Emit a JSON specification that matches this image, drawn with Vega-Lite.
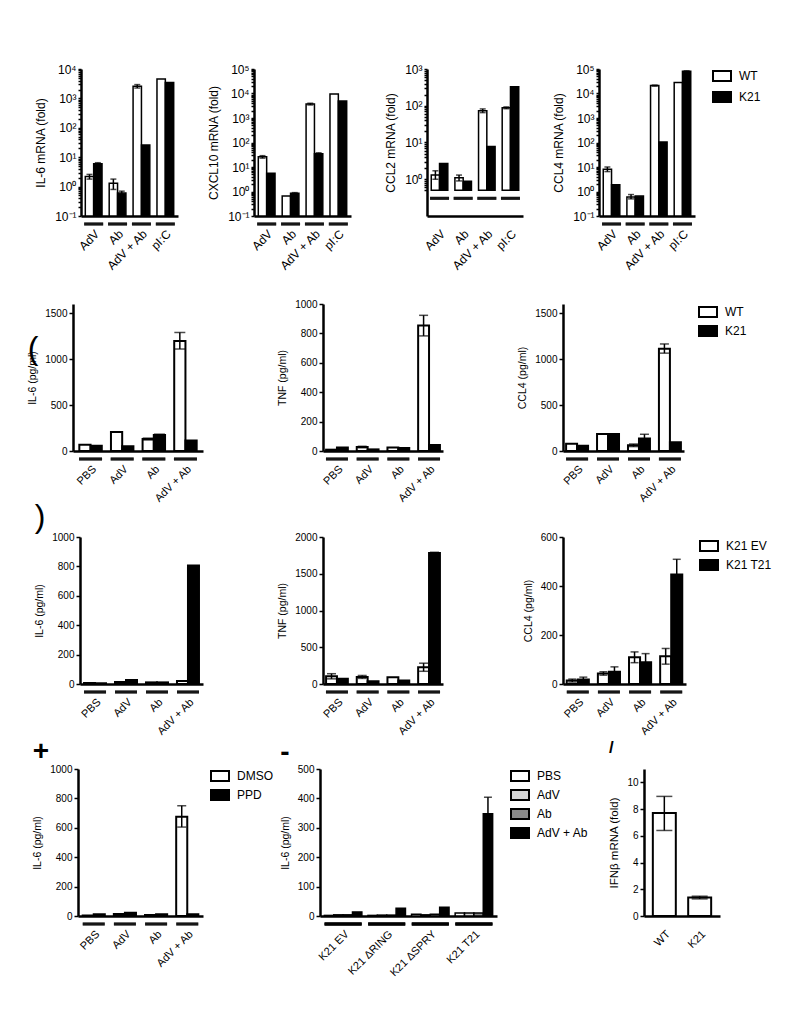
{
 "$schema": "https://vega.github.io/schema/vega-lite/v6.json",
 "padding": {"left": 20, "top": 63, "right": 5, "bottom": 5},
 "spacing": 27,
 "resolve": {"scale": {"fill": "independent", "x": "independent", "y": "independent", "xOffset": "independent"}},
 "config": {
  "font": "Liberation Sans",
  "view": {"stroke": null},
  "axis": {"domainColor": "black", "domainWidth": 2.5, "tickColor": "black", "tickWidth": 1.5, "tickSize": 4, "labelColor": "black", "titleColor": "black", "titleFontWeight": "normal", "grid": false, "labelFont": "Liberation Sans", "titleFont": "Liberation Sans"},
  "axisX": {"ticks": false, "labelAngle": -45, "labelPadding": 12, "labelFontSize": 11},
  "axisY": {"labelFontSize": 10, "titleFontSize": 10.5, "titlePadding": 7, "labelOverlap": false},
  "legend": {"labelFont": "Liberation Sans", "labelColor": "black", "labelFontSize": 12, "labelOffset": 7, "padding": 0, "rowPadding": 0, "symbolType": "M-1,-0.55H1V0.55H-1Z", "symbolSize": 324, "symbolStrokeColor": "black", "symbolStrokeWidth": 2},
  "title": {"font": "Liberation Sans", "fontSize": 32, "fontWeight": "bold", "color": "black"}
 },
 "datasets": {
  "a1": [
   {"g": "AdV", "s": "WT", "v": 2.2, "lo": 1.8, "hi": 2.6},
   {"g": "AdV", "s": "K21", "v": 6.0, "lo": 5.5, "hi": 6.5},
   {"g": "Ab", "s": "WT", "v": 1.3, "lo": 0.8, "hi": 1.8},
   {"g": "Ab", "s": "K21", "v": 0.6, "lo": 0.5, "hi": 0.7},
   {"g": "AdV + Ab", "s": "WT", "v": 2600, "lo": 2250, "hi": 2950},
   {"g": "AdV + Ab", "s": "K21", "v": 26},
   {"g": "pI:C", "s": "WT", "v": 4600},
   {"g": "pI:C", "s": "K21", "v": 3500}
  ],
  "a2": [
   {"g": "AdV", "s": "WT", "v": 26, "lo": 23, "hi": 29},
   {"g": "AdV", "s": "K21", "v": 5.5},
   {"g": "Ab", "s": "WT", "v": 0.65},
   {"g": "Ab", "s": "K21", "v": 0.85, "lo": 0.8, "hi": 0.9},
   {"g": "AdV + Ab", "s": "WT", "v": 3700, "lo": 3400, "hi": 4000},
   {"g": "AdV + Ab", "s": "K21", "v": 35, "lo": 32, "hi": 38},
   {"g": "pI:C", "s": "WT", "v": 9600},
   {"g": "pI:C", "s": "K21", "v": 5000}
  ],
  "a3": [
   {"g": "AdV", "s": "WT", "v": 1.3, "lo": 1.0, "hi": 1.7},
   {"g": "AdV", "s": "K21", "v": 2.7},
   {"g": "Ab", "s": "WT", "v": 1.1, "lo": 0.9, "hi": 1.3},
   {"g": "Ab", "s": "K21", "v": 0.88},
   {"g": "AdV + Ab", "s": "WT", "v": 73, "lo": 65, "hi": 82},
   {"g": "AdV + Ab", "s": "K21", "v": 7.8},
   {"g": "pI:C", "s": "WT", "v": 88, "lo": 83, "hi": 93},
   {"g": "pI:C", "s": "K21", "v": 330}
  ],
  "a4": [
   {"g": "AdV", "s": "WT", "v": 8, "lo": 6.5, "hi": 10},
   {"g": "AdV", "s": "K21", "v": 1.9},
   {"g": "Ab", "s": "WT", "v": 0.6, "lo": 0.5, "hi": 0.75},
   {"g": "Ab", "s": "K21", "v": 0.65},
   {"g": "AdV + Ab", "s": "WT", "v": 21000, "lo": 20000, "hi": 22000},
   {"g": "AdV + Ab", "s": "K21", "v": 105},
   {"g": "pI:C", "s": "WT", "v": 28000},
   {"g": "pI:C", "s": "K21", "v": 80000, "lo": 76000, "hi": 84000}
  ],
  "b1": [
   {"g": "PBS", "s": "WT", "v": 68}, {"g": "PBS", "s": "K21", "v": 58},
   {"g": "AdV", "s": "WT", "v": 208}, {"g": "AdV", "s": "K21", "v": 51},
   {"g": "Ab", "s": "WT", "v": 130, "lo": 120, "hi": 140}, {"g": "Ab", "s": "K21", "v": 174, "lo": 165, "hi": 183},
   {"g": "AdV + Ab", "s": "WT", "v": 1198, "lo": 1110, "hi": 1290}, {"g": "AdV + Ab", "s": "K21", "v": 113}
  ],
  "b2": [
   {"g": "PBS", "s": "WT", "v": 9}, {"g": "PBS", "s": "K21", "v": 23},
   {"g": "AdV", "s": "WT", "v": 27, "lo": 22, "hi": 32}, {"g": "AdV", "s": "K21", "v": 11},
   {"g": "Ab", "s": "WT", "v": 23}, {"g": "Ab", "s": "K21", "v": 20},
   {"g": "AdV + Ab", "s": "WT", "v": 853, "lo": 783, "hi": 923}, {"g": "AdV + Ab", "s": "K21", "v": 41}
  ],
  "b3": [
   {"g": "PBS", "s": "WT", "v": 79}, {"g": "PBS", "s": "K21", "v": 58},
   {"g": "AdV", "s": "WT", "v": 185}, {"g": "AdV", "s": "K21", "v": 185},
   {"g": "Ab", "s": "WT", "v": 62, "lo": 48, "hi": 76}, {"g": "Ab", "s": "K21", "v": 137, "lo": 92, "hi": 182},
   {"g": "AdV + Ab", "s": "WT", "v": 1113, "lo": 1065, "hi": 1165}, {"g": "AdV + Ab", "s": "K21", "v": 96}
  ],
  "c1": [
   {"g": "PBS", "s": "K21 EV", "v": 7}, {"g": "PBS", "s": "K21 T21", "v": 5},
   {"g": "AdV", "s": "K21 EV", "v": 14}, {"g": "AdV", "s": "K21 T21", "v": 27},
   {"g": "Ab", "s": "K21 EV", "v": 11}, {"g": "Ab", "s": "K21 T21", "v": 11},
   {"g": "AdV + Ab", "s": "K21 EV", "v": 20}, {"g": "AdV + Ab", "s": "K21 T21", "v": 806}
  ],
  "c2": [
   {"g": "PBS", "s": "K21 EV", "v": 105, "lo": 70, "hi": 140}, {"g": "PBS", "s": "K21 T21", "v": 73},
   {"g": "AdV", "s": "K21 EV", "v": 96, "lo": 76, "hi": 116}, {"g": "AdV", "s": "K21 T21", "v": 37},
   {"g": "Ab", "s": "K21 EV", "v": 91}, {"g": "Ab", "s": "K21 T21", "v": 46},
   {"g": "AdV + Ab", "s": "K21 EV", "v": 228, "lo": 173, "hi": 283}, {"g": "AdV + Ab", "s": "K21 T21", "v": 1781, "lo": 1770, "hi": 1792}
  ],
  "c3": [
   {"g": "PBS", "s": "K21 EV", "v": 14, "lo": 8, "hi": 20}, {"g": "PBS", "s": "K21 T21", "v": 18, "lo": 8, "hi": 28},
   {"g": "AdV", "s": "K21 EV", "v": 43, "lo": 36, "hi": 50}, {"g": "AdV", "s": "K21 T21", "v": 50, "lo": 30, "hi": 70},
   {"g": "Ab", "s": "K21 EV", "v": 109, "lo": 87, "hi": 131}, {"g": "Ab", "s": "K21 T21", "v": 89, "lo": 54, "hi": 124},
   {"g": "AdV + Ab", "s": "K21 EV", "v": 113, "lo": 81, "hi": 145}, {"g": "AdV + Ab", "s": "K21 T21", "v": 447, "lo": 385, "hi": 509}
  ],
  "d1": [
   {"g": "PBS", "s": "DMSO", "v": 4}, {"g": "PBS", "s": "PPD", "v": 12},
   {"g": "AdV", "s": "DMSO", "v": 14}, {"g": "AdV", "s": "PPD", "v": 22},
   {"g": "Ab", "s": "DMSO", "v": 7}, {"g": "Ab", "s": "PPD", "v": 12},
   {"g": "AdV + Ab", "s": "DMSO", "v": 676, "lo": 605, "hi": 750}, {"g": "AdV + Ab", "s": "PPD", "v": 12}
  ],
  "e1": [
   {"g": "K21 EV", "s": "PBS", "v": 2}, {"g": "K21 EV", "s": "AdV", "v": 4}, {"g": "K21 EV", "s": "Ab", "v": 4}, {"g": "K21 EV", "s": "AdV + Ab", "v": 14},
   {"g": "K21 ΔRING", "s": "PBS", "v": 2}, {"g": "K21 ΔRING", "s": "AdV", "v": 3}, {"g": "K21 ΔRING", "s": "Ab", "v": 3}, {"g": "K21 ΔRING", "s": "AdV + Ab", "v": 26},
   {"g": "K21 ΔSPRY", "s": "PBS", "v": 6}, {"g": "K21 ΔSPRY", "s": "AdV", "v": 4}, {"g": "K21 ΔSPRY", "s": "Ab", "v": 6}, {"g": "K21 ΔSPRY", "s": "AdV + Ab", "v": 30},
   {"g": "K21 T21", "s": "PBS", "v": 10}, {"g": "K21 T21", "s": "AdV", "v": 10}, {"g": "K21 T21", "s": "Ab", "v": 10}, {"g": "K21 T21", "s": "AdV + Ab", "v": 348, "lo": 292, "hi": 404}
  ],
  "f1": [
   {"g": "WT", "v": 7.7, "lo": 6.4, "hi": 8.95},
   {"g": "K21", "v": 1.38, "lo": 1.28, "hi": 1.48}
  ]
 },
 "vconcat": [
  {
   "hconcat": [
    {"width": 61, "height": 147, "data": {"values": []}, "mark": {"type": "point", "opacity": 0}, "encoding": {}},
    {
     "hconcat": [
      {
       "width": 97, "height": 147, "data": {"name": "a1"},
       "encoding": {"x": {"field": "g", "type": "nominal", "sort": null, "title": null, "scale": {"paddingInner": 0.3, "paddingOuter": 0.18}, "axis": {"labelFontSize": 12}}},
       "layer": [
        {"mark": {"type": "bar", "stroke": "black", "strokeWidth": 1.5},
         "encoding": {"xOffset": {"field": "s", "type": "nominal", "sort": null},
          "y": {"field": "v", "type": "quantitative", "title": "IL-6 mRNA (fold)", "scale": {"type": "log", "domain": [0.1, 10000]},
           "axis": {"values": [0.1,0.2,0.3,0.4,0.5,0.6,0.7,0.8,0.9,1,2,3,4,5,6,7,8,9,10,20,30,40,50,60,70,80,90,100,200,300,400,500,600,700,800,900,1000,2000,3000,4000,5000,6000,7000,8000,9000,10000], "tickCount": 100, "labelExpr": "abs(log(datum.value)/LN10 - round(log(datum.value)/LN10)) < 0.01 ? '10' + ['⁻¹','⁰','¹','²','³','⁴','⁵'][round(log(datum.value)/LN10)+1] : ''", "labelOverlap": false, "labelFlush": false, "labelFontSize": 12, "titleFontSize": 12, "tickSize": 3}},
          "y2": {"datum": 0.1},
          "fill": {"field": "s", "type": "nominal", "sort": null, "scale": {"domain": ["WT", "K21"], "range": ["white", "black"]}, "legend": null}}},
        {"transform": [{"filter": "isValid(datum.lo)"}], "mark": {"type": "rule", "strokeWidth": 1.5, "color": "black"},
         "encoding": {"xOffset": {"field": "s", "type": "nominal", "sort": null}, "y": {"field": "lo", "type": "quantitative", "title": "IL-6 mRNA (fold)"}, "y2": {"field": "hi"}}},
        {"transform": [{"filter": "isValid(datum.lo)"}], "mark": {"type": "tick", "thickness": 1.5, "size": 6, "color": "black"},
         "encoding": {"xOffset": {"field": "s", "type": "nominal", "sort": null}, "y": {"field": "lo", "type": "quantitative", "title": "IL-6 mRNA (fold)"}}},
        {"transform": [{"filter": "isValid(datum.lo)"}], "mark": {"type": "tick", "thickness": 1.5, "size": 6, "color": "black"},
         "encoding": {"xOffset": {"field": "s", "type": "nominal", "sort": null}, "y": {"field": "hi", "type": "quantitative", "title": "IL-6 mRNA (fold)"}}},
        {"mark": {"type": "tick", "thickness": 3, "size": 19, "yOffset": 8, "color": "black"},
         "encoding": {"y": {"datum": 0.1, "type": "quantitative"}}}
       ]
      },
      {
       "width": 97, "height": 147, "data": {"name": "a2"},
       "encoding": {"x": {"field": "g", "type": "nominal", "sort": null, "title": null, "scale": {"paddingInner": 0.3, "paddingOuter": 0.18}, "axis": {"labelFontSize": 12}}},
       "layer": [
        {"mark": {"type": "bar", "stroke": "black", "strokeWidth": 1.5},
         "encoding": {"xOffset": {"field": "s", "type": "nominal", "sort": null},
          "y": {"field": "v", "type": "quantitative", "title": "CXCL10 mRNA (fold)", "scale": {"type": "log", "domain": [0.1, 100000]},
           "axis": {"values": [0.1,0.2,0.3,0.4,0.5,0.6,0.7,0.8,0.9,1,2,3,4,5,6,7,8,9,10,20,30,40,50,60,70,80,90,100,200,300,400,500,600,700,800,900,1000,2000,3000,4000,5000,6000,7000,8000,9000,10000,20000,30000,40000,50000,60000,70000,80000,90000,100000], "tickCount": 100, "labelExpr": "abs(log(datum.value)/LN10 - round(log(datum.value)/LN10)) < 0.01 ? '10' + ['⁻¹','⁰','¹','²','³','⁴','⁵'][round(log(datum.value)/LN10)+1] : ''", "labelOverlap": false, "labelFlush": false, "labelFontSize": 12, "titleFontSize": 12, "tickSize": 3}},
          "y2": {"datum": 0.1},
          "fill": {"field": "s", "type": "nominal", "sort": null, "scale": {"domain": ["WT", "K21"], "range": ["white", "black"]}, "legend": null}}},
        {"transform": [{"filter": "isValid(datum.lo)"}], "mark": {"type": "rule", "strokeWidth": 1.5, "color": "black"},
         "encoding": {"xOffset": {"field": "s", "type": "nominal", "sort": null}, "y": {"field": "lo", "type": "quantitative", "title": "CXCL10 mRNA (fold)"}, "y2": {"field": "hi"}}},
        {"transform": [{"filter": "isValid(datum.lo)"}], "mark": {"type": "tick", "thickness": 1.5, "size": 6, "color": "black"},
         "encoding": {"xOffset": {"field": "s", "type": "nominal", "sort": null}, "y": {"field": "lo", "type": "quantitative", "title": "CXCL10 mRNA (fold)"}}},
        {"transform": [{"filter": "isValid(datum.lo)"}], "mark": {"type": "tick", "thickness": 1.5, "size": 6, "color": "black"},
         "encoding": {"xOffset": {"field": "s", "type": "nominal", "sort": null}, "y": {"field": "hi", "type": "quantitative", "title": "CXCL10 mRNA (fold)"}}},
        {"mark": {"type": "tick", "thickness": 3, "size": 19, "yOffset": 8, "color": "black"},
         "encoding": {"y": {"datum": 0.1, "type": "quantitative"}}}
       ]
      },
      {
       "width": 96, "height": 147, "data": {"name": "a3"},
       "encoding": {"x": {"field": "g", "type": "nominal", "sort": null, "title": null, "scale": {"paddingInner": 0.3, "paddingOuter": 0.18}, "axis": {"labelFontSize": 12}}},
       "layer": [
        {"mark": {"type": "bar", "stroke": "black", "strokeWidth": 1.5},
         "encoding": {"xOffset": {"field": "s", "type": "nominal", "sort": null},
          "y": {"field": "v", "type": "quantitative", "title": "CCL2 mRNA (fold)", "scale": {"type": "log", "domain": [0.5, 1000]},
           "axis": {"values": [0.5,0.6,0.7,0.8,0.9,1,2,3,4,5,6,7,8,9,10,20,30,40,50,60,70,80,90,100,200,300,400,500,600,700,800,900,1000], "tickCount": 100, "labelExpr": "abs(log(datum.value)/LN10 - round(log(datum.value)/LN10)) < 0.01 ? '10' + ['⁻¹','⁰','¹','²','³','⁴','⁵'][round(log(datum.value)/LN10)+1] : ''", "labelOverlap": false, "labelFlush": false, "labelFontSize": 12, "titleFontSize": 12, "tickSize": 3}},
          "y2": {"datum": 0.5},
          "fill": {"field": "s", "type": "nominal", "sort": null, "scale": {"domain": ["WT", "K21"], "range": ["white", "black"]}, "legend": null}}},
        {"transform": [{"filter": "isValid(datum.lo)"}], "mark": {"type": "rule", "strokeWidth": 1.5, "color": "black"},
         "encoding": {"xOffset": {"field": "s", "type": "nominal", "sort": null}, "y": {"field": "lo", "type": "quantitative", "title": "CCL2 mRNA (fold)"}, "y2": {"field": "hi"}}},
        {"transform": [{"filter": "isValid(datum.lo)"}], "mark": {"type": "tick", "thickness": 1.5, "size": 6, "color": "black"},
         "encoding": {"xOffset": {"field": "s", "type": "nominal", "sort": null}, "y": {"field": "lo", "type": "quantitative", "title": "CCL2 mRNA (fold)"}}},
        {"transform": [{"filter": "isValid(datum.lo)"}], "mark": {"type": "tick", "thickness": 1.5, "size": 6, "color": "black"},
         "encoding": {"xOffset": {"field": "s", "type": "nominal", "sort": null}, "y": {"field": "hi", "type": "quantitative", "title": "CCL2 mRNA (fold)"}}},
        {"mark": {"type": "tick", "thickness": 3, "size": 19, "yOffset": 8, "color": "black"},
         "encoding": {"y": {"datum": 0.5, "type": "quantitative"}}}
       ]
      },
      {
       "width": 96, "height": 147, "data": {"name": "a4"},
       "encoding": {"x": {"field": "g", "type": "nominal", "sort": null, "title": null, "scale": {"paddingInner": 0.3, "paddingOuter": 0.18}, "axis": {"labelFontSize": 12}}},
       "layer": [
        {"mark": {"type": "bar", "stroke": "black", "strokeWidth": 1.5},
         "encoding": {"xOffset": {"field": "s", "type": "nominal", "sort": null},
          "y": {"field": "v", "type": "quantitative", "title": "CCL4 mRNA (fold)", "scale": {"type": "log", "domain": [0.1, 100000]},
           "axis": {"values": [0.1,0.2,0.3,0.4,0.5,0.6,0.7,0.8,0.9,1,2,3,4,5,6,7,8,9,10,20,30,40,50,60,70,80,90,100,200,300,400,500,600,700,800,900,1000,2000,3000,4000,5000,6000,7000,8000,9000,10000,20000,30000,40000,50000,60000,70000,80000,90000,100000], "tickCount": 100, "labelExpr": "abs(log(datum.value)/LN10 - round(log(datum.value)/LN10)) < 0.01 ? '10' + ['⁻¹','⁰','¹','²','³','⁴','⁵'][round(log(datum.value)/LN10)+1] : ''", "labelOverlap": false, "labelFlush": false, "labelFontSize": 12, "titleFontSize": 12, "tickSize": 3}},
          "y2": {"datum": 0.1},
          "fill": {"field": "s", "type": "nominal", "sort": null, "scale": {"domain": ["WT", "K21"], "range": ["white", "black"]},
           "legend": {"orient": "none", "legendX": 113, "legendY": -3, "title": null, "rowPadding": 2}}}},
        {"transform": [{"filter": "isValid(datum.lo)"}], "mark": {"type": "rule", "strokeWidth": 1.5, "color": "black"},
         "encoding": {"xOffset": {"field": "s", "type": "nominal", "sort": null}, "y": {"field": "lo", "type": "quantitative", "title": "CCL4 mRNA (fold)"}, "y2": {"field": "hi"}}},
        {"transform": [{"filter": "isValid(datum.lo)"}], "mark": {"type": "tick", "thickness": 1.5, "size": 6, "color": "black"},
         "encoding": {"xOffset": {"field": "s", "type": "nominal", "sort": null}, "y": {"field": "lo", "type": "quantitative", "title": "CCL4 mRNA (fold)"}}},
        {"transform": [{"filter": "isValid(datum.lo)"}], "mark": {"type": "tick", "thickness": 1.5, "size": 6, "color": "black"},
         "encoding": {"xOffset": {"field": "s", "type": "nominal", "sort": null}, "y": {"field": "hi", "type": "quantitative", "title": "CCL4 mRNA (fold)"}}},
        {"mark": {"type": "tick", "thickness": 3, "size": 19, "yOffset": 8, "color": "black"},
         "encoding": {"y": {"datum": 0.1, "type": "quantitative"}}}
       ]
      }
     ],
     "spacing": 76, "bounds": "flush",
     "resolve": {"scale": {"fill": "independent", "x": "independent", "y": "independent", "xOffset": "independent"}}
    }
   ],
   "spacing": 0, "bounds": "flush",
   "resolve": {"scale": {"fill": "independent", "x": "independent", "y": "independent", "xOffset": "independent"}}
  },
  {
   "vconcat": [
    {
     "hconcat": [
      {"width": 53, "height": 147, "data": {"values": []}, "mark": {"type": "point", "opacity": 0}, "encoding": {}},
      {
       "hconcat": [
        {
         "width": 130, "height": 147, "data": {"name": "b1"},
         "title": {"text": "(", "anchor": "start", "frame": "bounds", "offset": -62, "fontWeight": "normal"},
         "encoding": {"x": {"field": "g", "type": "nominal", "sort": null, "title": null, "scale": {"paddingInner": 0.29, "paddingOuter": 0.2}}},
         "layer": [
          {"mark": {"type": "bar", "stroke": "black", "strokeWidth": 2},
           "encoding": {"xOffset": {"field": "s", "type": "nominal", "sort": null},
            "y": {"field": "v", "type": "quantitative", "title": "IL-6 (pg/ml)", "scale": {"domain": [0, 1500]}, "axis": {"values": [0, 500, 1000, 1500], "tickCount": 20, "format": "d", "labelOverlap": false}},
            "fill": {"field": "s", "type": "nominal", "sort": null, "scale": {"domain": ["WT", "K21"], "range": ["white", "black"]}, "legend": null}}},
          {"transform": [{"filter": "isValid(datum.lo)"}], "mark": {"type": "rule", "strokeWidth": 1.5, "color": "black"},
           "encoding": {"xOffset": {"field": "s", "type": "nominal", "sort": null}, "y": {"field": "lo", "type": "quantitative", "title": "IL-6 (pg/ml)"}, "y2": {"field": "hi"}}},
          {"transform": [{"filter": "isValid(datum.lo)"}], "mark": {"type": "tick", "thickness": 1.5, "size": 11, "color": "black"},
           "encoding": {"xOffset": {"field": "s", "type": "nominal", "sort": null}, "y": {"field": "lo", "type": "quantitative", "title": "IL-6 (pg/ml)"}}},
          {"transform": [{"filter": "isValid(datum.lo)"}], "mark": {"type": "tick", "thickness": 1.5, "size": 11, "color": "black"},
           "encoding": {"xOffset": {"field": "s", "type": "nominal", "sort": null}, "y": {"field": "hi", "type": "quantitative", "title": "IL-6 (pg/ml)"}}},
          {"mark": {"type": "tick", "thickness": 3, "size": 23, "yOffset": 8, "color": "black"},
           "encoding": {"y": {"datum": 0, "type": "quantitative"}}}
         ]
        },
        {
         "width": 120, "height": 147, "data": {"name": "b2"},
         "encoding": {"x": {"field": "g", "type": "nominal", "sort": null, "title": null, "scale": {"paddingInner": 0.29, "paddingOuter": 0.1}}},
         "layer": [
          {"mark": {"type": "bar", "stroke": "black", "strokeWidth": 2},
           "encoding": {"xOffset": {"field": "s", "type": "nominal", "sort": null},
            "y": {"field": "v", "type": "quantitative", "title": "TNF (pg/ml)", "scale": {"domain": [0, 1000]}, "axis": {"values": [0, 200, 400, 600, 800, 1000], "tickCount": 20, "format": "d", "labelOverlap": false}},
            "fill": {"field": "s", "type": "nominal", "sort": null, "scale": {"domain": ["WT", "K21"], "range": ["white", "black"]}, "legend": null}}},
          {"transform": [{"filter": "isValid(datum.lo)"}], "mark": {"type": "rule", "strokeWidth": 1.5, "color": "black"},
           "encoding": {"xOffset": {"field": "s", "type": "nominal", "sort": null}, "y": {"field": "lo", "type": "quantitative", "title": "TNF (pg/ml)"}, "y2": {"field": "hi"}}},
          {"transform": [{"filter": "isValid(datum.lo)"}], "mark": {"type": "tick", "thickness": 1.5, "size": 9, "color": "black"},
           "encoding": {"xOffset": {"field": "s", "type": "nominal", "sort": null}, "y": {"field": "lo", "type": "quantitative", "title": "TNF (pg/ml)"}}},
          {"transform": [{"filter": "isValid(datum.lo)"}], "mark": {"type": "tick", "thickness": 1.5, "size": 9, "color": "black"},
           "encoding": {"xOffset": {"field": "s", "type": "nominal", "sort": null}, "y": {"field": "hi", "type": "quantitative", "title": "TNF (pg/ml)"}}},
          {"mark": {"type": "tick", "thickness": 3, "size": 22, "yOffset": 8, "color": "black"},
           "encoding": {"y": {"datum": 0, "type": "quantitative"}}}
         ]
        },
        {
         "width": 121, "height": 147, "data": {"name": "b3"},
         "encoding": {"x": {"field": "g", "type": "nominal", "sort": null, "title": null, "scale": {"paddingInner": 0.29, "paddingOuter": 0.1}}},
         "layer": [
          {"mark": {"type": "bar", "stroke": "black", "strokeWidth": 2},
           "encoding": {"xOffset": {"field": "s", "type": "nominal", "sort": null},
            "y": {"field": "v", "type": "quantitative", "title": "CCL4 (pg/ml)", "scale": {"domain": [0, 1500]}, "axis": {"values": [0, 500, 1000, 1500], "tickCount": 20, "format": "d", "labelOverlap": false}},
            "fill": {"field": "s", "type": "nominal", "sort": null, "scale": {"domain": ["WT", "K21"], "range": ["white", "black"]},
             "legend": {"orient": "none", "legendX": 135, "legendY": -2, "title": null}}}},
          {"transform": [{"filter": "isValid(datum.lo)"}], "mark": {"type": "rule", "strokeWidth": 1.5, "color": "black"},
           "encoding": {"xOffset": {"field": "s", "type": "nominal", "sort": null}, "y": {"field": "lo", "type": "quantitative", "title": "CCL4 (pg/ml)"}, "y2": {"field": "hi"}}},
          {"transform": [{"filter": "isValid(datum.lo)"}], "mark": {"type": "tick", "thickness": 1.5, "size": 9, "color": "black"},
           "encoding": {"xOffset": {"field": "s", "type": "nominal", "sort": null}, "y": {"field": "lo", "type": "quantitative", "title": "CCL4 (pg/ml)"}}},
          {"transform": [{"filter": "isValid(datum.lo)"}], "mark": {"type": "tick", "thickness": 1.5, "size": 9, "color": "black"},
           "encoding": {"xOffset": {"field": "s", "type": "nominal", "sort": null}, "y": {"field": "hi", "type": "quantitative", "title": "CCL4 (pg/ml)"}}},
          {"mark": {"type": "tick", "thickness": 3, "size": 22, "yOffset": 8, "color": "black"},
           "encoding": {"y": {"datum": 0, "type": "quantitative"}}}
         ]
        }
       ],
       "spacing": 120, "bounds": "flush",
       "resolve": {"scale": {"fill": "independent", "x": "independent", "y": "independent", "xOffset": "independent"}}
      }
     ],
     "spacing": 0, "bounds": "flush",
     "resolve": {"scale": {"fill": "independent", "x": "independent", "y": "independent", "xOffset": "independent"}}
    },
    {
     "vconcat": [
      {
       "hconcat": [
        {"width": 60, "height": 147, "data": {"values": []}, "mark": {"type": "point", "opacity": 0}, "encoding": {}},
        {
         "hconcat": [
          {
           "width": 123, "height": 147, "data": {"name": "c1"},
           "title": {"text": ")", "anchor": "start", "frame": "bounds", "offset": -2, "fontWeight": "normal"},
           "encoding": {"x": {"field": "g", "type": "nominal", "sort": null, "title": null, "scale": {"paddingInner": 0.29, "paddingOuter": 0.13}}},
           "layer": [
            {"mark": {"type": "bar", "stroke": "black", "strokeWidth": 2},
             "encoding": {"xOffset": {"field": "s", "type": "nominal", "sort": null},
              "y": {"field": "v", "type": "quantitative", "title": "IL-6 (pg/ml)", "scale": {"domain": [0, 1000]}, "axis": {"values": [0, 200, 400, 600, 800, 1000], "tickCount": 20, "format": "d", "labelOverlap": false}},
              "fill": {"field": "s", "type": "nominal", "sort": null, "scale": {"domain": ["K21 EV", "K21 T21"], "range": ["white", "black"]}, "legend": null}}},
            {"mark": {"type": "tick", "thickness": 3, "size": 22, "yOffset": 8, "color": "black"},
             "encoding": {"y": {"datum": 0, "type": "quantitative"}}}
           ]
          },
          {
           "width": 120, "height": 147, "data": {"name": "c2"},
           "encoding": {"x": {"field": "g", "type": "nominal", "sort": null, "title": null, "scale": {"paddingInner": 0.29, "paddingOuter": 0.1}}},
           "layer": [
            {"mark": {"type": "bar", "stroke": "black", "strokeWidth": 2},
             "encoding": {"xOffset": {"field": "s", "type": "nominal", "sort": null},
              "y": {"field": "v", "type": "quantitative", "title": "TNF (pg/ml)", "scale": {"domain": [0, 2000]}, "axis": {"values": [0, 500, 1000, 1500, 2000], "tickCount": 20, "format": "d", "labelOverlap": false}},
              "fill": {"field": "s", "type": "nominal", "sort": null, "scale": {"domain": ["K21 EV", "K21 T21"], "range": ["white", "black"]}, "legend": null}}},
            {"transform": [{"filter": "isValid(datum.lo)"}], "mark": {"type": "rule", "strokeWidth": 1.5, "color": "black"},
             "encoding": {"xOffset": {"field": "s", "type": "nominal", "sort": null}, "y": {"field": "lo", "type": "quantitative", "title": "TNF (pg/ml)"}, "y2": {"field": "hi"}}},
            {"transform": [{"filter": "isValid(datum.lo)"}], "mark": {"type": "tick", "thickness": 1.5, "size": 9, "color": "black"},
             "encoding": {"xOffset": {"field": "s", "type": "nominal", "sort": null}, "y": {"field": "lo", "type": "quantitative", "title": "TNF (pg/ml)"}}},
            {"transform": [{"filter": "isValid(datum.lo)"}], "mark": {"type": "tick", "thickness": 1.5, "size": 9, "color": "black"},
             "encoding": {"xOffset": {"field": "s", "type": "nominal", "sort": null}, "y": {"field": "hi", "type": "quantitative", "title": "TNF (pg/ml)"}}},
            {"mark": {"type": "tick", "thickness": 3, "size": 22, "yOffset": 8, "color": "black"},
             "encoding": {"y": {"datum": 0, "type": "quantitative"}}}
           ]
          },
          {
           "width": 123, "height": 147, "data": {"name": "c3"},
           "encoding": {"x": {"field": "g", "type": "nominal", "sort": null, "title": null, "scale": {"paddingInner": 0.29, "paddingOuter": 0.12}}},
           "layer": [
            {"mark": {"type": "bar", "stroke": "black", "strokeWidth": 2},
             "encoding": {"xOffset": {"field": "s", "type": "nominal", "sort": null},
              "y": {"field": "v", "type": "quantitative", "title": "CCL4 (pg/ml)", "scale": {"domain": [0, 600]}, "axis": {"values": [0, 200, 400, 600], "tickCount": 20, "format": "d", "labelOverlap": false}},
              "fill": {"field": "s", "type": "nominal", "sort": null, "scale": {"domain": ["K21 EV", "K21 T21"], "range": ["white", "black"]},
               "legend": {"orient": "none", "legendX": 136, "legendY": -1, "title": null}}}},
            {"transform": [{"filter": "isValid(datum.lo)"}], "mark": {"type": "rule", "strokeWidth": 1.5, "color": "black"},
             "encoding": {"xOffset": {"field": "s", "type": "nominal", "sort": null}, "y": {"field": "lo", "type": "quantitative", "title": "CCL4 (pg/ml)"}, "y2": {"field": "hi"}}},
            {"transform": [{"filter": "isValid(datum.lo)"}], "mark": {"type": "tick", "thickness": 1.5, "size": 8, "color": "black"},
             "encoding": {"xOffset": {"field": "s", "type": "nominal", "sort": null}, "y": {"field": "lo", "type": "quantitative", "title": "CCL4 (pg/ml)"}}},
            {"transform": [{"filter": "isValid(datum.lo)"}], "mark": {"type": "tick", "thickness": 1.5, "size": 8, "color": "black"},
             "encoding": {"xOffset": {"field": "s", "type": "nominal", "sort": null}, "y": {"field": "hi", "type": "quantitative", "title": "CCL4 (pg/ml)"}}},
            {"mark": {"type": "tick", "thickness": 3, "size": 22, "yOffset": 8, "color": "black"},
             "encoding": {"y": {"datum": 0, "type": "quantitative"}}}
           ]
          }
         ],
         "spacing": 120, "bounds": "flush",
         "resolve": {"scale": {"fill": "independent", "x": "independent", "y": "independent", "xOffset": "independent"}}
        }
       ],
       "spacing": 0, "bounds": "flush",
       "resolve": {"scale": {"fill": "independent", "x": "independent", "y": "independent", "xOffset": "independent"}}
      },
      {
       "hconcat": [
        {"width": 58, "height": 147, "data": {"values": []}, "mark": {"type": "point", "opacity": 0}, "encoding": {}},
        {
         "hconcat": [
          {
           "width": 125, "height": 147, "data": {"name": "d1"},
           "title": {"text": "+", "anchor": "start", "frame": "bounds", "offset": -2, "fontSize": 28},
           "encoding": {"x": {"field": "g", "type": "nominal", "sort": null, "title": null, "scale": {"paddingInner": 0.29, "paddingOuter": 0.15}}},
           "layer": [
            {"mark": {"type": "bar", "stroke": "black", "strokeWidth": 2},
             "encoding": {"xOffset": {"field": "s", "type": "nominal", "sort": null},
              "y": {"field": "v", "type": "quantitative", "title": "IL-6 (pg/ml)", "scale": {"domain": [0, 1000]}, "axis": {"values": [0, 200, 400, 600, 800, 1000], "tickCount": 20, "format": "d", "labelOverlap": false}},
              "fill": {"field": "s", "type": "nominal", "sort": null, "scale": {"domain": ["DMSO", "PPD"], "range": ["white", "black"]},
               "legend": {"orient": "none", "legendX": 132, "legendY": -3, "title": null}}}},
            {"transform": [{"filter": "isValid(datum.lo)"}], "mark": {"type": "rule", "strokeWidth": 1.5, "color": "black"},
             "encoding": {"xOffset": {"field": "s", "type": "nominal", "sort": null}, "y": {"field": "lo", "type": "quantitative", "title": "IL-6 (pg/ml)"}, "y2": {"field": "hi"}}},
            {"transform": [{"filter": "isValid(datum.lo)"}], "mark": {"type": "tick", "thickness": 1.5, "size": 9, "color": "black"},
             "encoding": {"xOffset": {"field": "s", "type": "nominal", "sort": null}, "y": {"field": "lo", "type": "quantitative", "title": "IL-6 (pg/ml)"}}},
            {"transform": [{"filter": "isValid(datum.lo)"}], "mark": {"type": "tick", "thickness": 1.5, "size": 9, "color": "black"},
             "encoding": {"xOffset": {"field": "s", "type": "nominal", "sort": null}, "y": {"field": "hi", "type": "quantitative", "title": "IL-6 (pg/ml)"}}},
            {"mark": {"type": "tick", "thickness": 3, "size": 22, "yOffset": 8, "color": "black"},
             "encoding": {"y": {"datum": 0, "type": "quantitative"}}}
           ]
          },
          {
           "width": 177, "height": 147, "data": {"name": "e1"},
           "title": {"text": "-", "anchor": "start", "frame": "bounds", "offset": -3, "fontSize": 28},
           "encoding": {"x": {"field": "g", "type": "nominal", "sort": null, "title": null, "scale": {"paddingInner": 0.14, "paddingOuter": 0.1}}},
           "layer": [
            {"mark": {"type": "bar", "stroke": "black", "strokeWidth": 1.5},
             "encoding": {"xOffset": {"field": "s", "type": "nominal", "sort": null},
              "y": {"field": "v", "type": "quantitative", "title": "IL-6 (pg/ml)", "scale": {"domain": [0, 500]}, "axis": {"values": [0, 100, 200, 300, 400, 500], "tickCount": 20, "format": "d", "labelOverlap": false}},
              "fill": {"field": "s", "type": "nominal", "sort": null, "scale": {"domain": ["PBS", "AdV", "Ab", "AdV + Ab"], "range": ["white", "#d6d6d6", "#8a8a8a", "black"]},
               "legend": {"orient": "none", "legendX": 190, "legendY": -3, "title": null}}}},
            {"transform": [{"filter": "isValid(datum.lo)"}], "mark": {"type": "rule", "strokeWidth": 1.5, "color": "black"},
             "encoding": {"xOffset": {"field": "s", "type": "nominal", "sort": null}, "y": {"field": "lo", "type": "quantitative", "title": "IL-6 (pg/ml)"}, "y2": {"field": "hi"}}},
            {"transform": [{"filter": "isValid(datum.lo)"}], "mark": {"type": "tick", "thickness": 1.5, "size": 8, "color": "black"},
             "encoding": {"xOffset": {"field": "s", "type": "nominal", "sort": null}, "y": {"field": "hi", "type": "quantitative", "title": "IL-6 (pg/ml)"}}},
            {"mark": {"type": "tick", "thickness": 3, "size": 37, "yOffset": 8, "color": "black"},
             "encoding": {"y": {"datum": 0, "type": "quantitative"}}}
           ]
          },
          {
           "hconcat": [
            {"width": 30, "height": 147, "data": {"values": []}, "mark": {"type": "point", "opacity": 0}, "encoding": {}},
            {
             "width": 76, "height": 147, "data": {"name": "f1"},
             "title": {"text": "/", "anchor": "start", "frame": "bounds", "offset": 12, "fontSize": 17},
             "encoding": {"x": {"field": "g", "type": "nominal", "sort": null, "title": null, "scale": {"paddingInner": 0.35, "paddingOuter": 0.25}}},
             "layer": [
              {"mark": {"type": "bar", "stroke": "black", "strokeWidth": 2, "fill": "white"},
               "encoding": {"y": {"field": "v", "type": "quantitative", "title": "IFNβ mRNA (fold)", "scale": {"domain": [0, 11]}, "axis": {"values": [0, 2, 4, 6, 8, 10], "tickCount": 20, "format": "d", "titleFontSize": 11.5, "labelOverlap": false}}}},
              {"mark": {"type": "rule", "strokeWidth": 1.5, "color": "black"},
               "encoding": {"y": {"field": "lo", "type": "quantitative", "title": "IFNβ mRNA (fold)"}, "y2": {"field": "hi"}}},
              {"mark": {"type": "tick", "thickness": 1.5, "size": 16, "color": "black"},
               "encoding": {"y": {"field": "lo", "type": "quantitative", "title": "IFNβ mRNA (fold)"}}},
              {"mark": {"type": "tick", "thickness": 1.5, "size": 16, "color": "black"},
               "encoding": {"y": {"field": "hi", "type": "quantitative", "title": "IFNβ mRNA (fold)"}}}
             ]
            }
           ],
           "spacing": 0, "bounds": "flush",
           "resolve": {"scale": {"fill": "independent", "x": "independent", "y": "independent", "xOffset": "independent"}}
          }
         ],
         "spacing": 117, "bounds": "flush",
         "resolve": {"scale": {"fill": "independent", "x": "independent", "y": "independent", "xOffset": "independent"}}
        }
       ],
       "spacing": 0, "bounds": "flush",
       "resolve": {"scale": {"fill": "independent", "x": "independent", "y": "independent", "xOffset": "independent"}}
      }
     ],
     "spacing": 1,
     "resolve": {"scale": {"fill": "independent", "x": "independent", "y": "independent", "xOffset": "independent"}}
    }
   ],
   "spacing": -3,
   "resolve": {"scale": {"fill": "independent", "x": "independent", "y": "independent", "xOffset": "independent"}}
  }
 ]
}
